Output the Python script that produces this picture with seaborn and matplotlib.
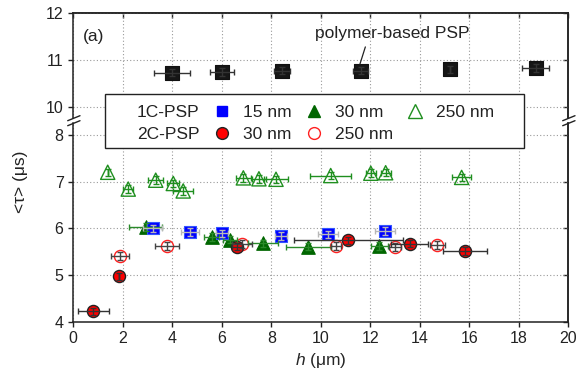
import numpy as np
import pandas as pd
import matplotlib
matplotlib.use("Agg")
import matplotlib.pyplot as plt
from matplotlib.lines import Line2D
from matplotlib.patches import Rectangle
import seaborn as sns

# ---------------- data ----------------
poly_h = [4.0, 6.02, 8.44, 11.61, 15.22, 18.69]
poly_tau = [10.73, 10.74, 10.77, 10.77, 10.80, 10.83]
poly_herr = [0.72, 0.48, 0.32, 0.30, 0.0, 0.55]

c1_15_h = [3.2, 4.71, 6.02, 8.40, 10.30, 12.59]
c1_15_tau = [6.00, 5.92, 5.89, 5.84, 5.87, 5.94]
c1_15_herr = [0.37, 0.37, 0.25, 0.25, 0.40, 0.42]

c1_30_h = [2.92, 5.59, 6.33, 7.66, 9.50, 12.37]
c1_30_tau = [6.03, 5.81, 5.76, 5.68, 5.61, 5.62]
c1_30_herr = [0.68, 0.30, 0.30, 0.60, 0.92, 0.35]

c1_250_h = [1.39, 2.22, 3.33, 4.04, 4.44, 6.87, 7.50, 8.19, 10.40, 12.02, 12.62, 15.69]
c1_250_tau = [7.20, 6.84, 7.03, 6.96, 6.80, 7.08, 7.06, 7.05, 7.13, 7.18, 7.19, 7.09]
c1_250_herr = [0.0, 0.20, 0.30, 0.25, 0.40, 0.30, 0.30, 0.50, 0.82, 0.20, 0.20, 0.39]

c2_30_h = [0.81, 1.85, 6.60, 11.11, 13.60, 15.83]
c2_30_tau = [4.22, 4.97, 5.61, 5.74, 5.67, 5.51]
c2_30_herr = [0.63, 0.0, 0.20, 2.20, 0.75, 0.90]

c2_250_h = [1.89, 3.80, 6.80, 10.60, 13.00, 14.71]
c2_250_tau = [5.41, 5.62, 5.66, 5.62, 5.60, 5.64]
c2_250_herr = [0.35, 0.49, 0.40, 0.20, 0.25, 0.30]

tau_err = 0.08

x_ticks = list(range(0, 21, 2))
y_ticks_top = [10, 11, 12]
y_ticks_bot = [4, 5, 6, 7, 8]

# ---------------- style ----------------
sns.set_theme(style="ticks")
plt.rcParams['font.family'] = ['Liberation Sans', 'DejaVu Sans']
plt.rcParams['mathtext.fontset'] = 'custom'
plt.rcParams['mathtext.it'] = 'Liberation Sans:italic'
plt.rcParams['mathtext.rm'] = 'Liberation Sans'

W, H = 584, 374
fig = plt.figure(figsize=(W / 100, H / 100), dpi=100)

L = 73.3 / W
Wd = 495.0 / W
top_px0, top_px1 = 13.3, 118.0
bot_px0, bot_px1 = 123.0, 321.7
ppu = 46.7  # pixels per tau unit

ax_t = fig.add_axes([L, 1 - top_px1 / H, Wd, (top_px1 - top_px0) / H])
ax_b = fig.add_axes([L, 1 - bot_px1 / H, Wd, (bot_px1 - bot_px0) / H])

ax_t.set_ylim(12 - (top_px1 - top_px0) / ppu, 12)
ax_b.set_ylim(4, 4 + (bot_px1 - bot_px0) / ppu)
for ax in (ax_t, ax_b):
    ax.set_xlim(0, 20)
    ax.set_xticks(x_ticks)
    ax.grid(True, linestyle=(0, (1, 2)), color='#9a9a9a', linewidth=0.8)
    ax.set_axisbelow(True)
    for s in ax.spines.values():
        s.set_color('#222222')
        s.set_linewidth(1.1)
    ax.tick_params(direction='out', length=3.5, width=1.0, colors='#222222',
                   labelsize=11.5, pad=3.5)

ax_t.set_yticks(y_ticks_top)
ax_b.set_yticks(y_ticks_bot)
ax_t.spines['bottom'].set_visible(False)
ax_t.tick_params(axis='x', bottom=False, labelbottom=False)
ax_b.spines['top'].set_visible(False)

# inward ticks on top / right
sx = ax_t.secondary_xaxis('top')
sx.set_xticks(x_ticks)
sx.tick_params(direction='in', length=3.5, width=1.0, colors='#222222', labeltop=False)
for ax, yt in ((ax_t, y_ticks_top), (ax_b, y_ticks_bot)):
    sy = ax.secondary_yaxis('right')
    sy.set_yticks(yt)
    sy.tick_params(direction='in', length=3.5, width=1.0, colors='#222222', labelright=False)
    sy.spines['right'].set_color('#222222')
    sy.spines['right'].set_linewidth(1.1)
sx.spines['top'].set_color('#222222')
sx.spines['top'].set_linewidth(1.1)


def series(ax, h, tau, herr, marker, s, fc, ec, lw, ecol):
    df = pd.DataFrame({'h': h, 'tau': tau})
    sns.scatterplot(data=df, x='h', y='tau', marker=marker, s=s, facecolor=fc,
                    edgecolor=ec, linewidth=lw, ax=ax, zorder=3, legend=False)
    ax.errorbar(h, tau, xerr=herr, yerr=tau_err, fmt='none', ecolor=ecol,
                elinewidth=1.0, capsize=2.2, capthick=1.0, zorder=4)


series(ax_t, poly_h, poly_tau, poly_herr, 's', 100, '#161616', '#111111', 0.8, '#333333')
series(ax_b, c1_250_h, c1_250_tau, c1_250_herr, '^', 105, 'none', '#1f8f1f', 1.0, '#1f8f1f')
series(ax_b, c1_30_h, c1_30_tau, c1_30_herr, '^', 95, '#006600', '#006600', 0.8, '#2a8a2a')
series(ax_b, c1_15_h, c1_15_tau, c1_15_herr, 's', 72, '#0000ff', '#3355ff', 0.8, '#b8b8b8')
series(ax_b, c2_250_h, c2_250_tau, c2_250_herr, 'o', 76, 'white', '#ff2020', 1.0, '#444444')
series(ax_b, c2_30_h, c2_30_tau, c2_30_herr, 'o', 76, '#ff0000', '#222222', 1.0, '#333333')

ax_t.set_ylabel('')
ax_b.set_ylabel('')
ax_t.set_xlabel('')
ax_b.set_xlabel('$h$ (μm)', fontsize=12.5)
ax_b.xaxis.set_label_coords(0.5, -(361 - bot_px1) / (bot_px1 - bot_px0))
ax_b.xaxis.label.set_va('center')
fig.text(20.7 / W, 1 - 182 / H, '<τ> (μs)', rotation=90, ha='center', va='center',
         fontsize=12.5, color='#222222')

# panel tag and annotation
ax_t.text((83 - 73.3) / 495, (top_px1 - 36.5) / (top_px1 - top_px0), '(a)',
          transform=ax_t.transAxes, ha='left', va='center', fontsize=12.5, color='#222222')
ax_t.text(12.88, 11.56, 'polymer-based PSP', ha='center', va='center',
          fontsize=12.5, color='#222222')
ax_t.annotate('', xy=(11.58, 10.91), xytext=(11.8, 11.28),
              arrowprops=dict(arrowstyle='-', color='#222222', lw=0.9,
                              shrinkA=0, shrinkB=0))

# axis break marks
for xc in (73.3, 568.3):
    for yc in (118.2, 123.2):
        fig.add_artist(Line2D([(xc - 5.6) / W, (xc + 6.7) / W],
                              [1 - (yc + 2.5) / H, 1 - (yc - 2.5) / H],
                              color='#222222', lw=1.0, transform=fig.transFigure))

# legend
fig.add_artist(Rectangle((105 / W, 1 - 148 / H), (524 - 105) / W, (148 - 94) / H,
                         transform=fig.transFigure, facecolor='white',
                         edgecolor='#222222', lw=1.0, zorder=4))
handles = [
    Line2D([], [], ls='none'),
    Line2D([], [], ls='none'),
    Line2D([], [], marker='s', ls='none', mfc='#0000ff', mec='#0000ff', ms=6.5),
    Line2D([], [], marker='o', ls='none', mfc='#ff0000', mec='#222222', ms=8.5),
    Line2D([], [], marker='^', ls='none', mfc='#006600', mec='#006600', ms=8.5),
    Line2D([], [], marker='o', ls='none', mfc='white', mec='#ff2020', ms=8.5),
    Line2D([], [], marker='^', ls='none', mfc='none', mec='#1f8f1f', ms=9.5),
    Line2D([], [], ls='none'),
]
labels = ['1C-PSP', '2C-PSP', '15 nm', '30 nm', '30 nm', '250 nm', '250 nm', '']
leg = fig.legend(handles, labels, ncol=4, loc='upper left',
                 bbox_to_anchor=(112 / W, 1 - 105 / H), bbox_transform=fig.transFigure,
                 frameon=False, fontsize=12.5, handlelength=0.46, handletextpad=0.98,
                 columnspacing=1.05, borderpad=0, borderaxespad=0, labelspacing=0.37)
for t in leg.get_texts():
    t.set_color('#222222')
leg.set_zorder(6)

fig.savefig('out.png', dpi=100)
